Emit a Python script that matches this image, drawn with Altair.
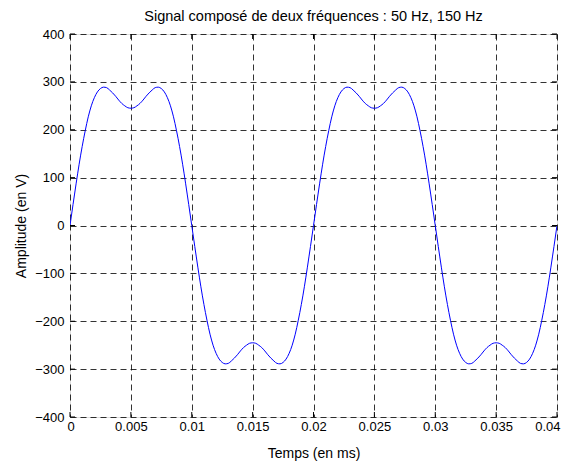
import altair as alt
import pandas as pd

# Time samples (s) and amplitudes (V), step 0.00025 s
t_start = 0.0
t_step = 0.00025
amplitude = [
    0, 44, 87, 128, 165, 198, 227, 250, 267, 279, 286, 289, 288, 283, 277, 270, 262, 255, 250, 246,
    245, 246, 250, 255, 262, 270, 277, 283, 288, 289, 286, 279, 267, 250, 227, 198, 165, 128, 87, 44,
    0, -44, -87, -128, -165, -198, -227, -250, -267, -279, -286, -289, -288, -283, -277, -270, -262, -255, -250, -246,
    -245, -246, -250, -255, -262, -270, -277, -283, -288, -289, -286, -279, -267, -250, -227, -198, -165, -128, -87, -44,
    0, 44, 87, 128, 165, 198, 227, 250, 267, 279, 286, 289, 288, 283, 277, 270, 262, 255, 250, 246,
    245, 246, 250, 255, 262, 270, 277, 283, 288, 289, 286, 279, 267, 250, 227, 198, 165, 128, 87, 44,
    0, -44, -87, -128, -165, -198, -227, -250, -267, -279, -286, -289, -288, -283, -277, -270, -262, -255, -250, -246,
    -245, -246, -250, -255, -262, -270, -277, -283, -288, -289, -286, -279, -267, -250, -227, -198, -165, -128, -87, -44,
    0,
]
x_ticks = [0, 0.005, 0.01, 0.015, 0.02, 0.025, 0.03, 0.035, 0.04]
y_ticks = [-400, -300, -200, -100, 0, 100, 200, 300, 400]

W, H = 487, 383
FONT = "Liberation Sans"
LBL = 13
TTL = 14

df = pd.DataFrame({
    "t": [round(t_start + i * t_step, 5) for i in range(len(amplitude))],
    "a": amplitude,
})
xt = pd.DataFrame({"x": x_ticks})
yt = pd.DataFrame({"y": y_ticks})

xscale = alt.Scale(domain=[0, 0.04], nice=False, zero=False)
yscale = alt.Scale(domain=[-400, 400], nice=False, zero=False)

line = alt.Chart(df).mark_line(color="#0000ff", strokeWidth=1, interpolate="monotone", clip=True).encode(
    x=alt.X("t:Q", scale=xscale, title="Temps (en ms)",
            axis=alt.Axis(values=x_ticks, grid=True, gridDash=[6, 4], gridColor="#000000", gridOpacity=0.8,
                          gridWidth=1, tickSize=0, labelPadding=3, domain=False, format="~g",
                          labelFontSize=LBL, titleFontSize=TTL, labelFont=FONT, titleFont=FONT,
                          labelColor="#000", titleColor="#000", titleFontWeight="normal",
                          titlePadding=13, labelFlush=True, labelFlushOffset=3)),
    y=alt.Y("a:Q", scale=yscale, title="Amplitude (en V)",
            axis=alt.Axis(values=y_ticks, grid=True, gridDash=[6, 4], gridColor="#000000", gridOpacity=0.8,
                          gridWidth=1, tickSize=0, labelPadding=6, domain=False,
                          labelFontSize=LBL, titleFontSize=TTL, labelFont=FONT, titleFont=FONT,
                          labelColor="#000", titleColor="#000", titleFontWeight="normal",
                          titlePadding=6, labelFlush=False)),
)

tick_len = 5
xb = alt.Chart(xt).mark_rule(color="#000", strokeWidth=1).encode(
    x=alt.X("x:Q", scale=xscale), y=alt.value(H), y2=alt.value(H - tick_len))
xtop = alt.Chart(xt).mark_rule(color="#000", strokeWidth=1).encode(
    x=alt.X("x:Q", scale=xscale), y=alt.value(0), y2=alt.value(tick_len))
yl = alt.Chart(yt).mark_rule(color="#000", strokeWidth=1).encode(
    y=alt.Y("y:Q", scale=yscale), x=alt.value(0), x2=alt.value(tick_len))
yr = alt.Chart(yt).mark_rule(color="#000", strokeWidth=1).encode(
    y=alt.Y("y:Q", scale=yscale), x=alt.value(W), x2=alt.value(W - tick_len))

chart = alt.layer(line, xb, xtop, yl, yr).properties(
    width=W, height=H,
    title=alt.TitleParams("Signal composé de deux fréquences : 50 Hz, 150 Hz",
                          font=FONT, fontSize=14.5, fontWeight="normal", color="#000", offset=4),
    autosize=alt.AutoSizeParams(type="none"),
    padding={"left": 62, "top": 26, "right": 5, "bottom": 46},
).configure_view(stroke="#000", strokeWidth=1).configure(background="#ffffff")

chart.save("out.html", embed_options={"renderer": "svg", "actions": False})
